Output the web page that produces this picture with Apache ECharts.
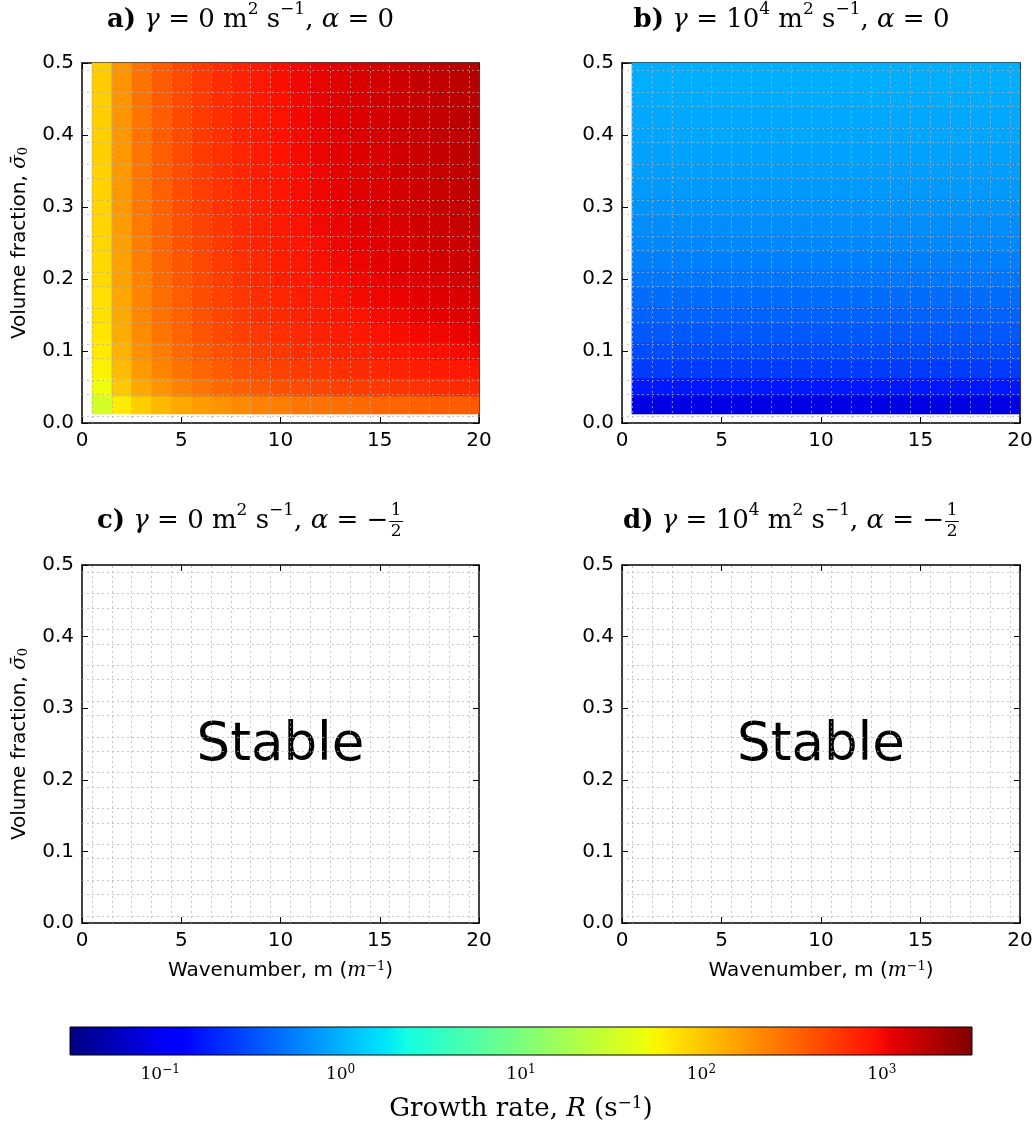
<!DOCTYPE html>
<html>
<head>
<meta charset="utf-8">
<script src="https://cdn.jsdelivr.net/npm/echarts@6/dist/echarts.min.js"></script>
<style>
  html, body { margin: 0; padding: 0; background: #fff; }
  #chart { width: 1035px; height: 1124px; }
</style>
</head>
<body>
<div id="chart"></div>
<script>
// Column centres: wavenumber m (1/m)
const wavenumbers = [1, 2, 3, 4, 5, 6, 7, 8, 9, 10, 11, 12, 13, 14, 15, 16, 17, 18, 19, 20];
// Row centres: mean volume fraction
const volumeFractions = [0.025, 0.05, 0.075, 0.1, 0.125, 0.15, 0.175, 0.2, 0.225, 0.25,
                         0.275, 0.3, 0.325, 0.35, 0.375, 0.4, 0.425, 0.45, 0.475, 0.5];

// Panel a: log10 of growth rate R (1/s); one row per volume fraction (bottom to top), one entry per wavenumber
const logGrowthA = [
  [1.52, 1.80, 1.96, 2.07, 2.16, 2.22, 2.27, 2.32, 2.36, 2.39, 2.42, 2.44, 2.47, 2.49, 2.51, 2.52, 2.54, 2.55, 2.57, 2.58],
  [1.70, 1.99, 2.16, 2.27, 2.36, 2.43, 2.49, 2.54, 2.58, 2.62, 2.65, 2.68, 2.71, 2.73, 2.75, 2.77, 2.79, 2.81, 2.83, 2.84],
  [1.77, 2.06, 2.23, 2.35, 2.44, 2.51, 2.57, 2.62, 2.66, 2.70, 2.74, 2.77, 2.80, 2.82, 2.85, 2.87, 2.89, 2.91, 2.92, 2.94],
  [1.81, 2.10, 2.28, 2.39, 2.49, 2.56, 2.62, 2.67, 2.72, 2.76, 2.80, 2.83, 2.86, 2.88, 2.91, 2.93, 2.95, 2.97, 2.99, 3.01],
  [1.84, 2.14, 2.31, 2.43, 2.52, 2.60, 2.66, 2.71, 2.76, 2.80, 2.84, 2.87, 2.90, 2.93, 2.96, 2.98, 3.00, 3.02, 3.04, 3.06],
  [1.86, 2.16, 2.33, 2.45, 2.54, 2.62, 2.68, 2.74, 2.79, 2.83, 2.87, 2.90, 2.93, 2.96, 2.99, 3.01, 3.04, 3.06, 3.08, 3.10],
  [1.87, 2.17, 2.34, 2.46, 2.56, 2.64, 2.70, 2.76, 2.81, 2.85, 2.89, 2.92, 2.96, 2.99, 3.02, 3.04, 3.06, 3.09, 3.11, 3.13],
  [1.89, 2.19, 2.36, 2.49, 2.58, 2.66, 2.72, 2.78, 2.83, 2.88, 2.91, 2.95, 2.98, 3.01, 3.04, 3.07, 3.09, 3.12, 3.14, 3.16],
  [1.90, 2.20, 2.37, 2.50, 2.59, 2.67, 2.74, 2.79, 2.84, 2.89, 2.93, 2.97, 3.00, 3.03, 3.06, 3.09, 3.11, 3.14, 3.16, 3.18],
  [1.91, 2.21, 2.39, 2.51, 2.61, 2.68, 2.75, 2.81, 2.86, 2.90, 2.94, 2.98, 3.02, 3.05, 3.08, 3.11, 3.13, 3.16, 3.18, 3.20],
  [1.92, 2.22, 2.40, 2.52, 2.62, 2.70, 2.76, 2.82, 2.87, 2.92, 2.96, 3.00, 3.03, 3.07, 3.10, 3.12, 3.15, 3.17, 3.20, 3.22],
  [1.93, 2.23, 2.41, 2.53, 2.63, 2.71, 2.78, 2.83, 2.88, 2.93, 2.97, 3.01, 3.04, 3.08, 3.11, 3.13, 3.16, 3.19, 3.21, 3.23],
  [1.94, 2.24, 2.41, 2.54, 2.64, 2.72, 2.78, 2.84, 2.89, 2.94, 2.98, 3.02, 3.05, 3.08, 3.11, 3.14, 3.17, 3.19, 3.22, 3.24],
  [1.94, 2.24, 2.42, 2.55, 2.64, 2.72, 2.79, 2.85, 2.90, 2.94, 2.98, 3.02, 3.06, 3.09, 3.12, 3.15, 3.17, 3.20, 3.22, 3.24],
  [1.95, 2.25, 2.43, 2.55, 2.65, 2.73, 2.79, 2.85, 2.90, 2.95, 2.99, 3.03, 3.06, 3.09, 3.12, 3.15, 3.18, 3.20, 3.23, 3.25],
  [1.95, 2.25, 2.43, 2.56, 2.65, 2.73, 2.80, 2.86, 2.91, 2.95, 2.99, 3.03, 3.07, 3.10, 3.13, 3.16, 3.18, 3.21, 3.23, 3.25],
  [1.96, 2.26, 2.43, 2.56, 2.66, 2.74, 2.80, 2.86, 2.91, 2.96, 3.00, 3.04, 3.07, 3.10, 3.13, 3.16, 3.19, 3.21, 3.24, 3.26],
  [1.96, 2.26, 2.44, 2.56, 2.66, 2.74, 2.81, 2.86, 2.92, 2.96, 3.00, 3.04, 3.08, 3.11, 3.14, 3.17, 3.19, 3.22, 3.24, 3.26],
  [1.97, 2.27, 2.44, 2.57, 2.66, 2.74, 2.81, 2.87, 2.92, 2.97, 3.01, 3.04, 3.08, 3.11, 3.14, 3.17, 3.20, 3.22, 3.24, 3.27],
  [1.97, 2.27, 2.45, 2.57, 2.67, 2.75, 2.81, 2.87, 2.92, 2.97, 3.01, 3.05, 3.08, 3.12, 3.15, 3.17, 3.20, 3.22, 3.25, 3.27]
];

// Panel b: log10 of growth rate R (1/s); uniform across wavenumber, one value per volume fraction row
const logGrowthB = [-1.06, -0.76, -0.58, -0.50, -0.44, -0.39, -0.34, -0.29, -0.25, -0.21,
                    -0.18, -0.15, -0.12, -0.10, -0.08, -0.06, -0.05, -0.03, -0.02, -0.01];

// Axis ticks
const xTicks = [0, 5, 10, 15, 20];
const yTicks = [0, 0.1, 0.2, 0.3, 0.4, 0.5];
const colorbarTicks = [0.1, 1, 10, 100, 1000];
// log10 R limits of the colour scale
const colorLimits = [-1.5, 3.5];

const SANS = 'DejaVu Sans';
const SERIF = 'DejaVu Serif';

// Matplotlib "jet" colormap (piecewise linear segments)
const JET = {
  r: [[0, 0], [0.35, 0], [0.66, 1], [0.89, 1], [1, 0.5]],
  g: [[0, 0], [0.125, 0], [0.375, 1], [0.64, 1], [0.91, 0], [1, 0]],
  b: [[0, 0.5], [0.11, 1], [0.34, 1], [0.65, 0], [1, 0]]
};
function seg(pts, t) {
  for (let i = 1; i < pts.length; i++) {
    if (t <= pts[i][0]) {
      const [x0, y0] = pts[i - 1], [x1, y1] = pts[i];
      return y0 + (y1 - y0) * (t - x0) / (x1 - x0);
    }
  }
  return pts[pts.length - 1][1];
}
function jet(t) {
  t = Math.max(0, Math.min(1, t));
  const c = k => Math.round(255 * seg(JET[k], t));
  return 'rgb(' + c('r') + ',' + c('g') + ',' + c('b') + ')';
}
function colorOf(logR) {
  return jet((logR - colorLimits[0]) / (colorLimits[1] - colorLimits[0]));
}

const halfM = (wavenumbers[1] - wavenumbers[0]) / 2;
const halfS = (volumeFractions[1] - volumeFractions[0]) / 2;

// Panel frames (pixel layout)
const panels = [
  { left: 82,  top: 63,  width: 397, height: 360 },
  { left: 622, top: 63,  width: 398, height: 360 },
  { left: 82,  top: 565, width: 397, height: 358 },
  { left: 622, top: 565, width: 398, height: 358 }
];

// Cell data [m, sigma, log10 R]
const cellsA = [], cellsB = [];
volumeFractions.forEach((s, i) => {
  wavenumbers.forEach((m, j) => {
    cellsA.push([m, s, logGrowthA[i][j]]);
    cellsB.push([m, s, logGrowthB[i]]);
  });
});

function renderCell(params, api) {
  const m = api.value(0), s = api.value(1), v = api.value(2);
  const p0 = api.coord([m - halfM, s + halfS]);
  const p1 = api.coord([m + halfM, s - halfS]);
  const cs = params.coordSys;
  const rect = echarts.graphic.clipRectByRect(
    { x: p0[0], y: p0[1], width: p1[0] - p0[0], height: p1[1] - p0[1] },
    { x: cs.x, y: cs.y, width: cs.width, height: cs.height });
  if (!rect) return null;
  const col = colorOf(v);
  return { type: 'rect', shape: rect, style: { fill: col, stroke: col, lineWidth: 0.6 } };
}

// Dashed lines on the cell boundaries
const gridLineData = wavenumbers.map(m => ({ xAxis: m - halfM }))
  .concat(volumeFractions.map(s => ({ yAxis: s - halfS })));

const grids = [], xAxes = [], yAxes = [], series = [];
const axisLineStyle = { color: '#000', width: 1.5 };
const tickStyle = { inside: true, length: 6, lineStyle: { color: '#000', width: 1 } };

panels.forEach((p, i) => {
  grids.push(Object.assign({ outerBoundsMode: 'none', containLabel: false }, p));
  const xBase = {
    gridIndex: i, type: 'value', min: xTicks[0], max: xTicks[xTicks.length - 1],
    interval: xTicks[1] - xTicks[0], splitLine: { show: false },
    axisLine: { onZero: false, lineStyle: axisLineStyle }, axisTick: tickStyle
  };
  const yBase = {
    gridIndex: i, type: 'value', min: yTicks[0], max: yTicks[yTicks.length - 1],
    interval: yTicks[1] - yTicks[0], splitLine: { show: false },
    axisLine: { onZero: false, lineStyle: axisLineStyle }, axisTick: tickStyle
  };
  const bottomX = Object.assign({}, xBase, {
    position: 'bottom',
    axisLabel: { fontFamily: SANS, fontSize: 20, color: '#000', margin: 8 }
  });
  if (i >= 2) {
    Object.assign(bottomX, {
      name: 'Wavenumber, m ({i|m}{sup|−1})',
      nameLocation: 'middle', nameGap: 37,
      nameTextStyle: {
        fontFamily: SANS, fontSize: 20, color: '#000',
        rich: {
          i: { fontFamily: SERIF, fontStyle: 'italic', fontSize: 20, color: '#000' },
          sup: { fontFamily: SERIF, fontSize: 13, color: '#000', verticalAlign: 'top', padding: [0, 0, 8, 0] }
        }
      }
    });
  }
  xAxes.push(bottomX);
  xAxes.push(Object.assign({}, xBase, { position: 'top', axisLabel: { show: false } }));

  const leftY = Object.assign({}, yBase, {
    position: 'left',
    axisLabel: { fontFamily: SANS, fontSize: 20, color: '#000', margin: 8, formatter: v => v.toFixed(1) }
  });
  if (i % 2 === 0) {
    Object.assign(leftY, {
      name: 'Volume fraction, {i|σ̄}{sub|0}',
      nameLocation: 'middle', nameGap: 52, nameRotate: 90,
      nameTextStyle: {
        fontFamily: SANS, fontSize: 20, color: '#000',
        rich: {
          i: { fontFamily: SERIF, fontStyle: 'italic', fontSize: 20, color: '#000' },
          sub: { fontFamily: SERIF, fontSize: 13, color: '#000', verticalAlign: 'bottom', padding: [6, 0, 0, 0] }
        }
      }
    });
  }
  yAxes.push(leftY);
  yAxes.push(Object.assign({}, yBase, { position: 'right', axisLabel: { show: false } }));

  const cells = i === 0 ? cellsA : (i === 1 ? cellsB : []);
  series.push({
    type: 'custom',
    xAxisIndex: 2 * i, yAxisIndex: 2 * i,
    renderItem: renderCell,
    data: cells,
    z: 2,
    silent: true,
    markLine: {
      silent: true, symbol: 'none', z: 5, animation: false,
      label: { show: false },
      emphasis: { disabled: true },
      lineStyle: { type: [2, 3], color: 'rgba(175,175,175,0.7)', width: 1 },
      data: gridLineData
    }
  });
});

// Colour bar
grids.push({ left: 70, top: 1027, width: 902, height: 28, outerBoundsMode: 'none', containLabel: false });
const cbIndex = panels.length * 2;
xAxes.push({
  gridIndex: panels.length, type: 'log', logBase: 10,
  min: Math.pow(10, colorLimits[0]), max: Math.pow(10, colorLimits[1]),
  position: 'bottom',
  axisLine: { show: false },
  splitLine: { show: false },
  axisTick: { inside: true, length: 6, lineStyle: { color: '#000', width: 1 }, customValues: colorbarTicks },
  axisLabel: {
    customValues: colorbarTicks, margin: 9,
    formatter: v => {
      const e = Math.round(Math.log10(v));
      return '10{sup|' + (e < 0 ? '−' + (-e) : e) + '}';
    },
    fontFamily: SERIF, fontSize: 17, color: '#000',
    rich: { sup: { fontFamily: SERIF, fontSize: 12, color: '#000', verticalAlign: 'top', padding: [0, 0, 9, 0] } }
  },
  name: 'Growth rate, {i|R} (s{sup|−1})',
  nameLocation: 'middle', nameGap: 40,
  nameTextStyle: {
    fontFamily: SERIF, fontSize: 26, color: '#000',
    rich: {
      i: { fontFamily: SERIF, fontStyle: 'italic', fontSize: 26, color: '#000' },
      sup: { fontFamily: SERIF, fontSize: 17, color: '#000', verticalAlign: 'top', padding: [0, 0, 12, 0] }
    }
  }
});
yAxes.push({ gridIndex: panels.length, type: 'value', min: 0, max: 1, show: false });
series.push({
  type: 'custom', xAxisIndex: cbIndex, yAxisIndex: cbIndex, silent: true, z: 2,
  data: [[Math.pow(10, colorLimits[0]), Math.pow(10, colorLimits[1])]],
  renderItem: (params, api) => {
    const p0 = api.coord([api.value(0), 1]);
    const p1 = api.coord([api.value(1), 0]);
    const stops = [];
    for (let k = 0; k <= 200; k++) stops.push({ offset: k / 200, color: jet(k / 200) });
    return {
      type: 'rect',
      shape: { x: p0[0], y: p0[1], width: p1[0] - p0[0], height: p1[1] - p0[1] },
      style: { fill: new echarts.graphic.LinearGradient(0, 0, 1, 0, stops), stroke: '#000', lineWidth: 1 }
    };
  }
});

// Panel titles: built from measured text runs so super/subscripts and fractions sit correctly
const measureCtx = document.createElement('canvas').getContext('2d');
const TITLE_SIZE = 26, SUP_SIZE = 17, FRAC_SIZE = 17;
function runFont(r) {
  return (r.style || 'normal') + ' ' + (r.weight || 'normal') + ' ' + r.size + 'px "' + SERIF + '"';
}
function textEl(text, x, y, r, align) {
  return {
    type: 'text', x: x, y: y, silent: true,
    style: {
      text: text, fill: '#000', align: align || 'left', verticalAlign: 'middle',
      fontFamily: SERIF, fontSize: r.size, fontStyle: r.style || 'normal', fontWeight: r.weight || 'normal'
    }
  };
}
function fracWidth(r) {
  measureCtx.font = runFont({ size: FRAC_SIZE });
  return Math.max(measureCtx.measureText(r.frac[0]).width, measureCtx.measureText(r.frac[1]).width) + 5;
}
function runWidth(r) {
  if (r.frac) return fracWidth(r);
  measureCtx.font = runFont(Object.assign({ size: TITLE_SIZE }, r));
  return measureCtx.measureText(r.t).width;
}
// Lay out a row of runs centred on centreX
function mathLine(runs, centreX, midY) {
  const children = [];
  const total = runs.reduce((acc, r) => acc + runWidth(r), 0);
  let x = centreX - total / 2;
  runs.forEach(r => {
    const w = runWidth(r);
    if (r.frac) {
      const fr = { size: FRAC_SIZE };
      children.push(textEl(r.frac[0], x + w / 2, midY - 10, fr, 'center'));
      children.push({ type: 'line', silent: true,
        shape: { x1: x + 1, y1: midY + 0.5, x2: x + w - 1, y2: midY + 0.5 },
        style: { stroke: '#000', lineWidth: 1 } });
      children.push(textEl(r.frac[1], x + w / 2, midY + 11, fr, 'center'));
    } else {
      const rr = Object.assign({ size: TITLE_SIZE }, r);
      children.push(textEl(rr.t, x, midY + (rr.dy || 0), rr));
    }
    x += w;
  });
  return { type: 'group', silent: true, children: children };
}
const sup = t => ({ t: t, size: SUP_SIZE, dy: -10 });
const unitRuns = [{ t: ' m' }, sup('2'), { t: ' s' }, sup('−1'), { t: ', ' }, { t: 'α', style: 'italic' }, { t: ' = ' }];
const titles = [
  { x: 250.5, y: 20, runs: [{ t: 'a)', weight: 'bold' }, { t: ' ' }, { t: 'γ', style: 'italic' }, { t: ' = 0' }]
      .concat(unitRuns, [{ t: '0' }]) },
  { x: 791.5, y: 20, runs: [{ t: 'b)', weight: 'bold' }, { t: ' ' }, { t: 'γ', style: 'italic' }, { t: ' = 10' }, sup('4')]
      .concat(unitRuns, [{ t: '0' }]) },
  { x: 250.5, y: 521, runs: [{ t: 'c)', weight: 'bold' }, { t: ' ' }, { t: 'γ', style: 'italic' }, { t: ' = 0' }]
      .concat(unitRuns, [{ t: '−' }, { frac: ['1', '2'] }]) },
  { x: 791.5, y: 521, runs: [{ t: 'd)', weight: 'bold' }, { t: ' ' }, { t: 'γ', style: 'italic' }, { t: ' = 10' }, sup('4')]
      .concat(unitRuns, [{ t: '−' }, { frac: ['1', '2'] }]) }
];
const graphics = titles.map(t => mathLine(t.runs, t.x, t.y));

// "Stable" annotation in the two lower panels
[2, 3].forEach(i => {
  const p = panels[i];
  graphics.push({
    type: 'text', silent: true, x: p.left + p.width / 2, y: p.top + p.height / 2 + 2,
    style: { text: 'Stable', fill: '#000', align: 'center', verticalAlign: 'middle', fontFamily: SANS, fontSize: 53 }
  });
});

const chart = echarts.init(document.getElementById('chart'), null, { renderer: 'canvas' });
chart.setOption({
  animation: false,
  backgroundColor: '#fff',
  grid: grids,
  xAxis: xAxes,
  yAxis: yAxes,
  series: series,
  graphic: graphics
});
</script>
</body>
</html>
